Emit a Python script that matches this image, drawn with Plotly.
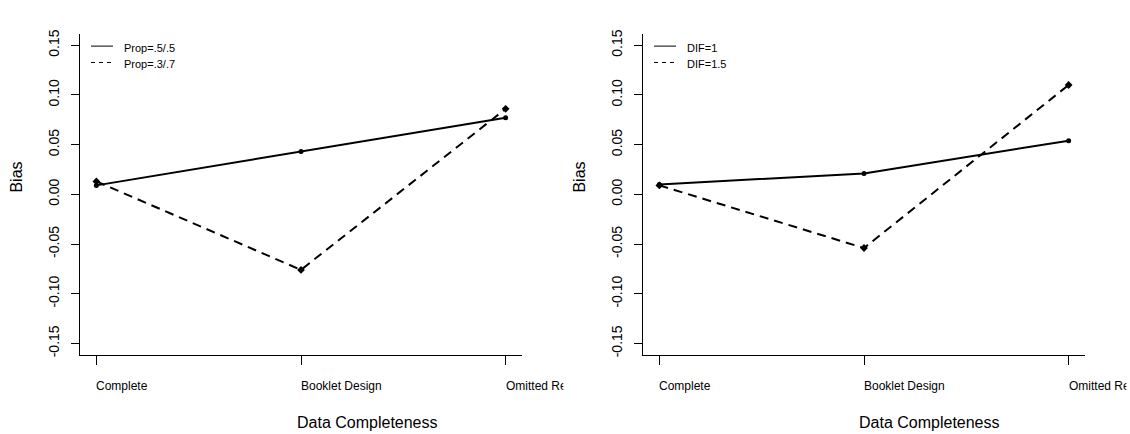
import plotly.graph_objects as go

# ---- data -------------------------------------------------------------
conditions = ["Complete", "Booklet Design", "Omitted Responses"]
x_pos = [1, 2, 3]

left_names = ["Prop=.5/.5", "Prop=.3/.7"]
left_solid = [0.009, 0.043, 0.077]
left_dashed = [0.013, -0.076, 0.086]

right_names = ["DIF=1", "DIF=1.5"]
right_solid = [0.010, 0.021, 0.054]
right_dashed = [0.009, -0.054, 0.110]

y_ticks = [-0.15, -0.10, -0.05, 0.00, 0.05, 0.10, 0.15]
y_tick_text = ["-0.15", "-0.10", "-0.05", "0.00", "0.05", "0.10", "0.15"]

x_title = "Data Completeness"
y_title = "Bias"

# ---- layout helpers (pixel -> paper) ---------------------------------
W, H = 1130, 434
FONT = "Liberation Sans, Arial, sans-serif"


def px(x):
    return x / W


def py(y):
    return 1 - y / H


panels = [
    dict(x0=80, x1=522, names=left_names, solid=left_solid, dashed=left_dashed,
         xa="x", ya="y"),
    dict(x0=643, x1=1085, names=right_names, solid=right_solid, dashed=right_dashed,
         xa="x2", ya="y2"),
]

fig = go.Figure()
annotations = []
shapes = []

y_top, y_bot = 30, 356

for i, p in enumerate(panels):
    suffix = "" if i == 0 else "2"
    # solid series with round markers
    fig.add_trace(go.Scatter(
        x=x_pos, y=p["solid"], mode="lines+markers", name=p["names"][0],
        line=dict(color="black", width=2),
        marker=dict(symbol="circle", size=5, color="black"),
        xaxis=p["xa"], yaxis=p["ya"], showlegend=False, cliponaxis=False,
    ))
    # dashed series with diamond markers
    fig.add_trace(go.Scatter(
        x=x_pos, y=p["dashed"], mode="lines+markers", name=p["names"][1],
        line=dict(color="black", width=2, dash="9px,6px"),
        marker=dict(symbol="diamond", size=6, color="black"),
        xaxis=p["xa"], yaxis=p["ya"], showlegend=False, cliponaxis=False,
    ))

    axis_x = dict(
        domain=[px(p["x0"]), px(p["x1"])], range=[0.92, 3.08],
        showline=True, linecolor="black", linewidth=1, mirror=False,
        ticks="outside", ticklen=9, tickcolor="black", tickwidth=1,
        tickvals=x_pos, showticklabels=False, showgrid=False, zeroline=False,
        anchor="y" + suffix, fixedrange=True,
    )
    axis_y = dict(
        domain=[py(y_bot), py(y_top)], range=[-0.1617, 0.1617],
        showline=True, linecolor="black", linewidth=1, mirror=False,
        ticks="outside", ticklen=8, tickcolor="black", tickwidth=1,
        tickvals=y_ticks, ticktext=y_tick_text, tickangle=-90,
        tickfont=dict(family=FONT, size=14, color="black"),
        ticklabelstandoff=6,
        showgrid=False, zeroline=False, anchor="x" + suffix, fixedrange=True,
    )
    fig.update_layout(**{"xaxis" + suffix: axis_x, "yaxis" + suffix: axis_y})

    # category labels, left-aligned at each tick and clipped at the panel edge
    unit = (p["x1"] - p["x0"]) / (3.08 - 0.92)
    edge = p["x1"] + 41
    for xv, lab in zip(x_pos, conditions):
        xpix = p["x0"] + (xv - 0.92) * unit
        annotations.append(dict(
            x=px(xpix - 1), y=py(387.5), xref="paper", yref="paper",
            text=lab, showarrow=False, xanchor="left", yanchor="middle",
            align="left", width=min(120, edge - xpix),
            font=dict(family=FONT, size=12, color="black"), borderpad=0,
        ))

    # axis titles
    mid = p["x0"] + 0.5 * (p["x1"] - p["x0"])
    annotations.append(dict(
        x=px(mid + 66), y=py(424.5), xref="paper", yref="paper", text=x_title,
        showarrow=False, xanchor="center", yanchor="middle",
        font=dict(family=FONT, size=16, color="black"),
    ))
    annotations.append(dict(
        x=px(p["x0"] - 63), y=py(176), xref="paper", yref="paper", text=y_title,
        showarrow=False, xanchor="center", yanchor="middle", textangle=-90,
        font=dict(family=FONT, size=16, color="black"),
    ))

    # legend: line samples plus labels
    lx0 = p["x0"] + 11
    for k, (name, dash, ly) in enumerate(
            zip(p["names"], ["solid", "4px,4px"], [42.7, 59.3])):
        shapes.append(dict(
            type="line", xref="paper", yref="paper",
            x0=px(lx0), x1=px(lx0 + 22), y0=py(ly), y1=py(ly),
            line=dict(color="black", width=1, dash=dash),
        ))
        annotations.append(dict(
            x=px(lx0 + 32), y=py(ly + 1.5), xref="paper", yref="paper",
            text=name, showarrow=False, xanchor="left", yanchor="middle",
            font=dict(family=FONT, size=11, color="black"), borderpad=0,
        ))

fig.update_layout(
    width=W, height=H, margin=dict(l=0, r=0, t=0, b=0),
    paper_bgcolor="white", plot_bgcolor="white",
    annotations=annotations, shapes=shapes, showlegend=False,
)

fig.write_html("out.html", config={"displayModeBar": False})
